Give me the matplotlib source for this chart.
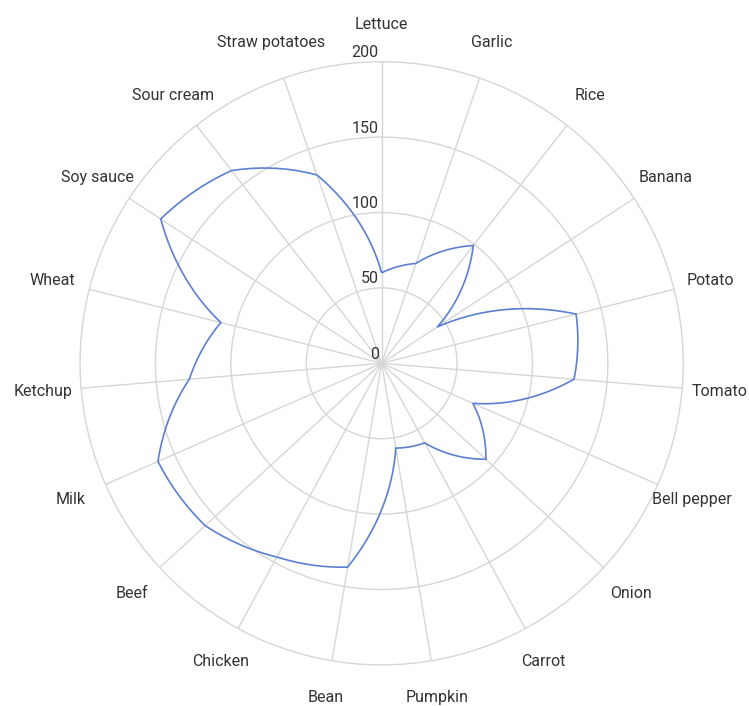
import numpy as np
import matplotlib
matplotlib.use('Agg')
import matplotlib.pyplot as plt
from matplotlib.path import Path
from matplotlib.patches import PathPatch
from matplotlib.transforms import ScaledTranslation

plt.rcParams['font.family'] = ['Roboto', 'DejaVu Sans']

categories = ["Lettuce", "Garlic", "Rice", "Banana", "Potato", "Tomato",
              "Bell pepper", "Onion", "Carrot", "Pumpkin", "Bean", "Chicken",
              "Beef", "Milk", "Ketchup", "Wheat", "Soy sauce", "Sour cream",
              "Straw potatoes"]
values = [60, 70, 99, 44, 133, 128, 66, 94, 60, 57, 137, 146,
          159, 162, 128, 110, 175, 162, 132]
radial_ticks = [0, 50, 100, 150, 200]

GRID = '#d6d6d6'
TEXT = '#333333'
LINE = '#5b7fd1'

fig = plt.figure(figsize=(7.49, 7.06), dpi=100)
ax = fig.add_axes([0.1069, 0.0582, 0.8053, 0.8544], projection='polar')
ax.set_theta_offset(np.pi / 2)
ax.set_theta_direction(-1)
ax.set_autoscale_on(False)
ax.set_ylim(0, radial_ticks[-1])

n = len(categories)
theta = np.arange(n) * 2 * np.pi / n
ax.set_xticks(theta)
ax.set_xticklabels([])
ax.set_yticks(radial_ticks[1:-1])
ax.set_yticklabels([])
ax.tick_params(length=0)
ax.grid(True, color=GRID, linewidth=1.0)
ax.spines['polar'].set_color(GRID)
ax.spines['polar'].set_linewidth(1.0)

# data line, drawn in polar coordinates (segments follow the polar interpolation)
verts = np.column_stack([np.append(theta, 2 * np.pi),
                         np.append(values, values[0])])
path = Path(verts, _interpolation_steps=60)
patch = PathPatch(path, transform=ax.transData, fill=False,
                  edgecolor=LINE, linewidth=1.2, zorder=3)
ax.add_patch(patch)
ax.set_thetalim(0, 2 * np.pi)
ax.set_ylim(0, radial_ticks[-1])

# category labels
for cat, t in zip(categories, theta):
    ax.text(t, 225, cat, ha='center', va='center', fontsize=11.5,
            color=TEXT, clip_on=False)

# radial value labels
off = ScaledTranslation(-0.03, 0.09, fig.dpi_scale_trans)
for v in radial_ticks:
    ax.text(0, v, str(v), transform=ax.transData + off, ha='right',
            va='center', fontsize=11.5, color=TEXT, clip_on=False, zorder=4)

fig.savefig('out.png', dpi=100)
